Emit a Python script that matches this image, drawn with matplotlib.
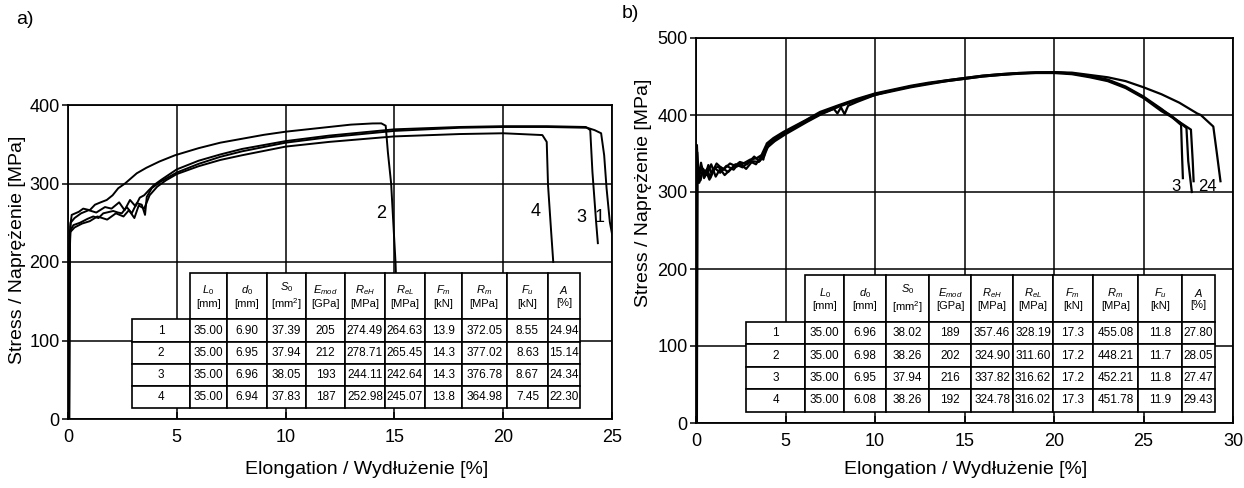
import matplotlib
matplotlib.use('Agg')
import matplotlib.pyplot as plt

plt.rcParams['font.family'] = ['Liberation Sans', 'DejaVu Sans']
plt.rcParams['mathtext.fontset'] = 'custom'
plt.rcParams['mathtext.rm'] = 'Liberation Sans'
plt.rcParams['mathtext.it'] = 'Liberation Sans:italic'

# ---- table contents (same headers for both panels) ----
header_sym = [r'$L_0$', r'$d_0$', r'$S_0$', r'$E_{mod}$', r'$R_{eH}$',
              r'$R_{eL}$', r'$F_m$', r'$R_m$', r'$F_u$', r'$A$']
header_unit = ['[mm]', '[mm]', '[mm$^2$]', '[GPa]', '[MPa]',
               '[MPa]', '[kN]', '[MPa]', '[kN]', '[%]']
row_ids = ['1', '2', '3', '4']

table_a = [
    ['35.00', '6.90', '37.39', '205', '274.49', '264.63', '13.9', '372.05', '8.55', '24.94'],
    ['35.00', '6.95', '37.94', '212', '278.71', '265.45', '14.3', '377.02', '8.63', '15.14'],
    ['35.00', '6.96', '38.05', '193', '244.11', '242.64', '14.3', '376.78', '8.67', '24.34'],
    ['35.00', '6.94', '37.83', '187', '252.98', '245.07', '13.8', '364.98', '7.45', '22.30'],
]
table_b = [
    ['35.00', '6.96', '38.02', '189', '357.46', '328.19', '17.3', '455.08', '11.8', '27.80'],
    ['35.00', '6.98', '38.26', '202', '324.90', '311.60', '17.2', '448.21', '11.7', '28.05'],
    ['35.00', '6.95', '37.94', '216', '337.82', '316.62', '17.2', '452.21', '11.8', '27.47'],
    ['35.00', '6.08', '38.26', '192', '324.78', '316.02', '17.3', '451.78', '11.9', '29.43'],
]

# ---- panel a) curves (elongation %, stress MPa) ----
a1_x = [0.05, 0.07, 0.1, 0.25, 0.55, 0.9, 1.16, 1.4, 1.62, 2.08, 2.3, 2.47, 2.7, 2.93, 3.16,
        3.39, 3.54, 3.62, 3.85, 4.23, 5, 6, 7, 8, 10, 12, 15, 18, 20, 22, 23.86, 24.2,
        24.5, 24.64, 24.75, 24.9, 25.0]
a1_y = [0, 200, 240, 247, 250, 255, 258, 256, 262, 265, 263, 262, 270, 262, 275,
        273, 260, 283, 294, 302, 314, 325, 334, 341, 352, 359, 367, 371, 372, 372, 371, 368,
        364, 336, 294, 251, 236]

a2_x = [0.04, 0.06, 0.1, 0.17, 0.5, 0.7, 1.0, 1.24, 1.5, 1.78, 2.05, 2.31, 2.62, 3.16,
        3.6, 4.2, 4.92, 6, 7, 8, 9, 10, 11, 12, 13, 14, 14.4, 14.6, 14.7, 14.85, 14.95,
        15.05, 15.1]
a2_y = [0, 190, 245, 260, 264, 268, 266, 273, 276, 279, 285, 294, 300, 313,
        320, 328, 336, 345, 352, 357, 362, 366, 369, 372, 375, 376.5, 376.6, 373.6, 340, 300, 250,
        200, 160]

a3_x = [0.06, 0.08, 0.12, 0.3, 0.6, 0.95, 1.3, 1.7, 2.0, 2.35, 2.6, 2.85, 3.1, 3.3, 3.5,
        3.7, 3.95, 4.3, 5, 6, 7, 8, 10, 12, 15, 18, 20, 22, 23.8, 24.0, 24.1, 24.27, 24.35]
a3_y = [0, 210, 250, 256, 262, 266, 263, 270, 268, 276, 266, 279, 271, 282, 285,
        291, 298, 305, 318, 329, 337, 344, 354, 361, 369, 372, 373, 373, 372, 368, 315, 251, 224]

a4_x = [0.05, 0.07, 0.1, 0.3, 0.65, 1.0, 1.35, 1.8, 2.2, 2.55, 2.8, 3.05, 3.25, 3.5, 3.75,
        4.1, 4.5, 5, 6, 7, 8, 10, 12, 15, 18, 20, 21.8, 22.0, 22.06, 22.2, 22.3]
a4_y = [0, 190, 238, 244, 249, 252, 258, 254, 262, 258, 266, 256, 272, 268, 285,
        296, 304, 312, 322, 330, 336, 347, 353, 360, 363, 364, 361.7, 353, 298, 240, 200]

# ---- panel b) curves ----
b1_x = [0.03, 0.05, 0.13, 0.32, 0.5, 0.69, 0.87, 1.15, 1.52, 1.9, 2.27, 2.64, 3.02, 3.39,
        3.67, 3.76, 3.95, 4.32, 4.88, 6.18, 6.93, 8, 9, 10, 11, 12, 13, 14, 15, 16, 17, 18,
        19, 20, 21, 22, 23, 24, 25, 26, 26.5, 27.0, 27.4, 27.5, 27.7]
b1_y = [0, 361, 316, 333, 320, 335, 324, 337, 329, 337, 333, 337, 342, 344,
        348, 342, 363, 370, 378, 394, 404, 413, 421, 428, 433, 438, 442, 445, 448, 451, 453, 454.5,
        455.5, 455.5, 454, 450, 445, 436, 423, 407, 400, 391, 383, 340, 300]

b2_x = [0.04, 0.07, 0.15, 0.28, 0.45, 0.62, 0.8, 1.05, 1.35, 1.7, 2.1, 2.45, 2.85, 3.25,
        3.55, 3.7, 3.9, 4.3, 5.0, 6.2, 7.0, 7.7, 7.9, 8.1, 8.3, 8.5, 9, 10, 11, 12, 13, 14, 15,
        16, 17, 18, 19, 20, 21, 22, 23, 24, 25, 26, 26.6, 27.2, 27.65, 27.75, 27.8]
b2_y = [0, 340, 322, 338, 318, 330, 318, 331, 325, 334, 329, 339, 336, 346,
        340, 350, 360, 368, 377, 392, 402, 408, 402, 410, 401, 412, 417, 426, 432, 437, 441, 444, 447,
        450, 452, 453.5, 454.5, 454.5, 453, 449, 444, 435, 422, 405, 397, 388, 381, 340, 314]

b3_x = [0.05, 0.08, 0.18, 0.35, 0.55, 0.75, 0.95, 1.25, 1.6, 2.0, 2.4, 2.8, 3.15, 3.5,
        3.8, 4.0, 4.4, 5.0, 6.2, 7.0, 8, 9, 10, 11, 12, 13, 14, 15, 16, 17, 18, 19, 20, 21,
        22, 23, 24, 25, 26, 26.5, 27.1, 27.15, 27.2]
b3_y = [0, 330, 312, 326, 328, 316, 330, 333, 322, 331, 338, 330, 340, 339,
        346, 358, 366, 375, 391, 401, 411, 419, 426, 431, 436, 440, 444, 447, 450, 452, 454, 455, 455.5, 454,
        451, 446, 437, 424, 408, 399, 387, 350, 318]

b4_x = [0.04, 0.06, 0.12, 0.25, 0.4, 0.6, 0.85, 1.1, 1.4, 1.8, 2.2, 2.6, 3.0, 3.35,
        3.6, 3.85, 4.1, 4.5, 5.1, 6.3, 7.2, 8, 9, 10, 11, 12, 13, 14, 15, 16, 17, 18, 19, 20,
        21, 22, 23, 24, 25, 26, 27, 28, 28.2, 28.9, 29.1, 29.3]
b4_y = [0, 352, 325, 315, 330, 322, 336, 320, 332, 326, 336, 332, 340, 336,
        345, 352, 362, 369, 379, 395, 405, 412, 420, 427, 432, 437, 441, 445, 448, 451, 453, 454.5, 455, 455.5,
        455, 452, 449, 444, 436, 427, 416, 402, 400, 385, 350, 314]

W, H = 1244, 488
fig = plt.figure(figsize=(W / 100, H / 100), dpi=100)

ax_a = fig.add_axes([68 / W, 1 - 419 / H, 544 / W, 314 / H])
ax_b = fig.add_axes([696 / W, 1 - 423 / H, 537 / W, 385 / H])


def add_table(ax, rows, bbox, col_w):
    """Draws the property table inside the axes (bbox in axes fractions)."""
    cells = [[''] + [s + '\n' + u for s, u in zip(header_sym, header_unit)]]
    for rid, r in zip(row_ids, rows):
        cells.append([rid] + r)
    tab = ax.table(cellText=cells, cellLoc='center', bbox=bbox, colWidths=col_w)
    tab.auto_set_font_size(False)
    tab.set_fontsize(8.5)
    tab.set_zorder(5)
    for (r, c), cell in tab.get_celld().items():
        cell.set_linewidth(1.2)
        cell.PAD = 0.02
        if r == 0:
            cell.set_height(cell.get_height() * 2.1)
            cell.get_text().set_fontsize(8)
            if c == 0:
                cell.set_visible(False)
    return tab


def style_axes(ax, xmax, ymax):
    ax.set_xlim(0, xmax)
    ax.set_ylim(0, ymax)
    ax.set_xticks(range(0, xmax + 1, 5))
    ax.set_yticks(range(0, ymax + 1, 100))
    ax.grid(True, color='black', linewidth=1.1)
    ax.set_axisbelow(True)
    for sp in ax.spines.values():
        sp.set_linewidth(1.3)
    ax.tick_params(axis='y', direction='out', length=4, width=1.1, labelsize=13, pad=2)
    ax.tick_params(axis='x', direction='in', length=5, width=1.1, labelsize=13, pad=7)


# panel a)
for xs, ys in [(a1_x, a1_y), (a2_x, a2_y), (a3_x, a3_y), (a4_x, a4_y)]:
    ax_a.plot(xs, ys, color='black', linewidth=1.4, zorder=3)
style_axes(ax_a, 25, 400)
ax_a.text(14.4, 262, '2', fontsize=13, ha='center', va='center')
ax_a.text(21.5, 264, '4', fontsize=13, ha='center', va='center')
ax_a.text(23.6, 257, '3', fontsize=13, ha='center', va='center')
ax_a.text(24.45, 257, '1', fontsize=13, ha='center', va='center')
add_table(ax_a, table_a, [0.1176, 0.035, 0.8235, 0.43],
          [58, 36.7, 40, 39.3, 39, 40, 40, 36.7, 45, 41.6, 31.7])

# panel b)
for xs, ys in [(b1_x, b1_y), (b2_x, b2_y), (b3_x, b3_y), (b4_x, b4_y)]:
    ax_b.plot(xs, ys, color='black', linewidth=1.6, zorder=3)
style_axes(ax_b, 30, 500)
ax_b.text(26.8, 307, '3', fontsize=12, ha='center', va='center')
ax_b.text(28.55, 307, '24', fontsize=12, ha='center', va='center')
add_table(ax_b, table_b, [0.093, 0.0294, 0.8733, 0.355],
          [57, 37, 40, 41.7, 40, 40, 38.3, 38, 43.7, 41.6, 31.7])

# labels
fig.text(18 / W, 1 - 250 / H, 'Stress / Naprężenie [MPa]', rotation=90,
         ha='center', va='center', fontsize=14)
fig.text(643 / W, 1 - 193 / H, 'Stress / Naprężenie [MPa]', rotation=90,
         ha='center', va='center', fontsize=14)
fig.text(367 / W, 1 - 470 / H, 'Elongation / Wydłużenie [%]',
         ha='center', va='center', fontsize=14)
fig.text(966 / W, 1 - 470 / H, 'Elongation / Wydłużenie [%]',
         ha='center', va='center', fontsize=14)
fig.text(25 / W, 1 - 20 / H, 'a)', ha='center', va='center', fontsize=14)
fig.text(630 / W, 1 - 13 / H, 'b)', ha='center', va='center', fontsize=14)

fig.savefig('out.png', dpi=100)
